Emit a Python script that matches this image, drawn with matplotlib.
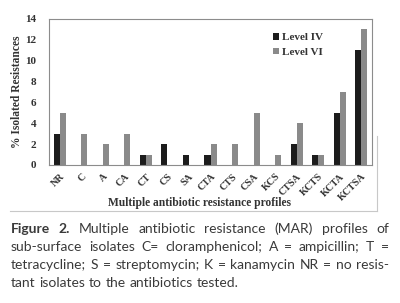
import matplotlib
matplotlib.use("Agg")
import matplotlib.pyplot as plt
import numpy as np

# profiles and % isolated resistances
profiles = ["NR", "C", "A", "CA", "CT", "CS", "SA", "CTA", "CTS", "CSA",
            "KCS", "CTSA", "KCTS", "KCTA", "KCTSA"]
level_iv = [3, 0, 0, 0, 1, 2, 1, 1, 0, 0, 0, 2, 1, 5, 11]
level_vi = [5, 3, 2, 3, 1, 0, 0, 2, 2, 5, 1, 4, 1, 7, 13]
yticks = [0, 2, 4, 6, 8, 10, 12, 14]

caption_lines = [
    "Figure 2. Multiple antibiotic resistance (MAR) profiles of",
    "sub-surface isolates C= cloramphenicol; A = ampicillin; T =",
    "tetracycline; S = streptomycin; K = kanamycin NR = no resis-",
    "tant isolates to the antibiotics tested.",
]

serif = "Liberation Serif"
sans = "Lato"

fig = plt.figure(figsize=(4, 3.03), dpi=100)
fig.patch.set_facecolor("white")

# light frame around the chart (only bottom and right visible in the original)
fig.add_artist(plt.Line2D([10 / 400, 377 / 400], [1 - 211 / 303, 1 - 211 / 303],
                          color="#c8c8c8", lw=0.8))
fig.add_artist(plt.Line2D([377 / 400, 377 / 400], [1 - 211 / 303, 1 - 136 / 303],
                          color="#c8c8c8", lw=0.8))

ax = fig.add_axes([49 / 400, 1 - 165 / 303, (372 - 49) / 400, (165 - 19) / 303])

x = np.arange(len(profiles))
w = 0.28
ax.bar(x - w / 2, level_iv, w, color="#1c1c1c", label="Level IV")
ax.bar(x + w / 2, level_vi, w, color="#8a8a8a", label="Level VI")

ax.set_xlim(-0.5, len(profiles) - 0.5)
ax.set_ylim(0, 14)
ax.set_yticks(yticks)
ax.set_yticklabels([str(t) for t in yticks], fontfamily=serif,
                   fontweight="bold", fontsize=8, color="#333333")
ax.set_xticks(x)
ax.set_xticklabels(profiles, rotation=45, ha="right", rotation_mode="anchor",
                   fontfamily=serif, fontweight="bold", fontsize=7.2,
                   color="#333333")
ax.tick_params(axis="y", length=0, pad=9)
ax.tick_params(axis="x", length=0, pad=5)

for s in ax.spines.values():
    s.set_color("#8c8c8c")
    s.set_linewidth(0.8)

ax.set_ylabel("% Isolated Resistances", fontfamily=serif, fontweight="bold",
              fontsize=8.3, color="#333333", labelpad=1.5)
fig.text(200 / 400, 1 - 203 / 303, "Multiple antibiotic resistance profiles",
         ha="center", va="center", fontfamily=serif, fontweight="bold",
         fontsize=8.3, color="#333333")

leg = ax.legend(loc="upper right", bbox_to_anchor=(0.88, 0.97), frameon=False,
                handlelength=0.5, handleheight=0.5, handletextpad=0.3,
                labelspacing=0.5,
                prop={"family": serif, "weight": "bold", "size": 8})
for t in leg.get_texts():
    t.set_color("#333333")

# caption, justified like in the journal layout
left_px, right_px = 11, 389
tops = [229, 247, 265, 283]
fig.canvas.draw()
renderer = fig.canvas.get_renderer()
for i, line in enumerate(caption_lines):
    words = line.split(" ")
    y = 1 - tops[i] / 303
    objs = []
    for j, word in enumerate(words):
        bold = i == 0 and j < 2
        t = fig.text(0, y, word, ha="left", va="center", fontfamily=sans,
                     fontsize=10, color="#3a3a3a",
                     fontweight="bold" if bold else "normal")
        objs.append(t)
    widths = [t.get_window_extent(renderer).width for t in objs]
    if i < len(caption_lines) - 1:
        gap = (right_px - left_px - sum(widths)) / (len(words) - 1)
    else:
        gap = 3.8
    pos = left_px
    for t, wd in zip(objs, widths):
        t.set_x(pos / 400)
        pos += wd + gap

fig.savefig("out.png", dpi=100)
